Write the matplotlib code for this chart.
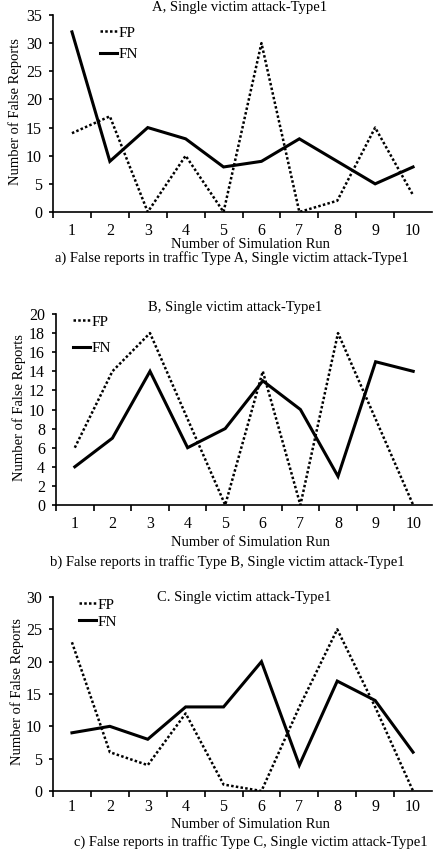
import numpy as np
import matplotlib.pyplot as plt

plt.rcParams['font.family'] = 'Liberation Serif'

runs = list(range(1, 11))

fp_a = [14, 17, 0, 10, 0, 30, 0, 2, 15, 3]
fn_a = [32, 9, 15, 13, 8, 9, 13, 9, 5, 8]

fp_b = [6, 14, 18, 9, 0, 14, 0, 18, 9, 0]
fn_b = [4, 7, 14, 6, 8, 13, 10, 3, 15, 14]

fp_c = [23, 6, 4, 12, 1, 0, 13, 25, 13, 0]
fn_c = [9, 10, 8, 13, 13, 20, 4, 17, 14, 6]

titles = ['A, Single victim attack-Type1',
          'B, Single victim attack-Type1',
          'C. Single victim attack-Type1']
captions = ['a) False reports in traffic Type A, Single victim attack-Type1',
            'b) False reports in traffic Type B, Single victim attack-Type1',
            'c) False reports in traffic Type C, Single victim attack-Type1']
ymax = [35, 20, 30]
ystep = [5, 2, 5]

W, H = 435, 849
fig = plt.figure(figsize=(W / 100, H / 100), dpi=100)


def fx(x):
    return x / W


def fy(y):
    return 1 - y / H


# pixel layout of each panel: axes box, title, labels, legend
panels = [
    dict(left=53, right=432, top=15, bottom=212, title=(240, 0.5, 'top'),
         xlab=245, ylab=(15, 112), cap=(232, 258), leg=(100, 26), ls=0.5, pad=8),
    dict(left=56, right=432, top=314, bottom=505, title=(235, 307, 'center'),
         xlab=542, ylab=(19, 408), cap=(227, 562), leg=(73, 315), ls=0.85, pad=8),
    dict(left=53, right=432, top=597, bottom=791, title=(244, 597, 'center'),
         xlab=825, ylab=(17, 692), cap=(251, 842), leg=(79, 598), ls=0.22, pad=6),
]
series = [(fp_a, fn_a), (fp_b, fn_b), (fp_c, fn_c)]

for i, p in enumerate(panels):
    ax = fig.add_axes([fx(p['left']), fy(p['bottom']),
                       (p['right'] - p['left']) / W, (p['bottom'] - p['top']) / H])
    fp, fn = series[i]
    ax.plot(runs, fp, color='black', lw=1.8, linestyle=(0, (1, 0.9)),
            dash_capstyle='butt', label='FP')
    ax.plot(runs, fn, color='black', lw=2.2, solid_joinstyle='miter', label='FN')

    ax.set_xlim(0.5, 10.5)
    ax.set_ylim(0, ymax[i])
    ax.set_yticks(np.arange(0, ymax[i] + 1, ystep[i]))
    ax.set_xticks(np.arange(0.5, 10, 1))
    ax.set_xticklabels([])
    ax.set_xticks(runs, minor=True)
    ax.set_xticklabels([str(r) for r in runs], minor=True)
    ax.tick_params(axis='x', which='major', direction='out', length=4, width=1.2)
    ax.tick_params(axis='x', which='minor', length=0, pad=p['pad'], labelsize=11.5)
    ax.tick_params(axis='y', direction='out', length=3, width=1.2, pad=5, labelsize=11.5)
    for s in ['top', 'right']:
        ax.spines[s].set_visible(False)
    for s in ['left', 'bottom']:
        ax.spines[s].set_linewidth(1.2)

    ax.legend(loc='upper left', bbox_to_anchor=(fx(p['leg'][0]), fy(p['leg'][1])),
              bbox_transform=fig.transFigure, frameon=False, borderpad=0,
              borderaxespad=0, handlelength=1.1, handletextpad=0.1,
              labelspacing=p['ls'], fontsize=11)

    tx, ty, tva = p['title']
    fig.text(fx(tx), fy(ty), titles[i], ha='center', va=tva, fontsize=10.5)
    fig.text(fx(250), fy(p['xlab']), 'Number of Simulation Run', ha='center',
             va='center', fontsize=10.5)
    fig.text(fx(p['ylab'][0]), fy(p['ylab'][1]), 'Number of False Reports',
             rotation=90, ha='center', va='center', fontsize=10.5)
    fig.text(fx(p['cap'][0]), fy(p['cap'][1]), captions[i], ha='center',
             va='center', fontsize=10.5)

fig.savefig('out.png', dpi=100)
